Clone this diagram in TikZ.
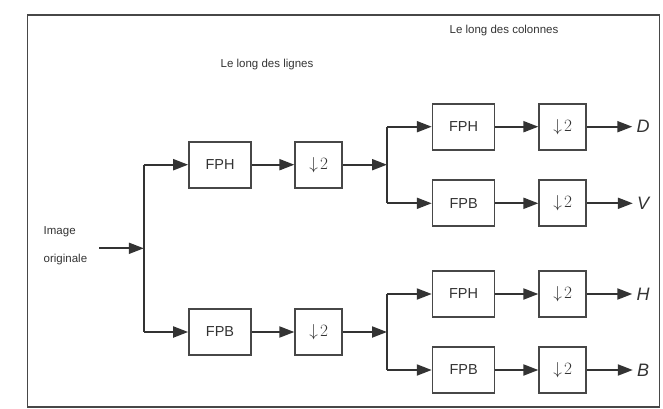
\documentclass[tikz,border=0pt]{standalone}
\usepackage{fontspec}
\setmainfont{Liberation Sans}
\usetikzlibrary{arrows.meta}
\definecolor{ln}{gray}{0.20}
\definecolor{bx}{gray}{0.28}
\definecolor{tx}{gray}{0.20}
\begin{document}
\begin{tikzpicture}[x=1pt,y=-1pt,
  conn/.style={draw=ln,line width=2pt},
  arr/.style={conn,-{Triangle[length=15pt,width=11pt]}},
  fbox/.style={draw=bx,line width=1.7pt,minimum width=62pt,minimum height=46pt,inner sep=0pt,
    font=\fontsize{14.5}{14.5}\selectfont,text=tx},
  dbox/.style={draw=bx,line width=1.7pt,minimum width=47pt,minimum height=46pt,inner sep=0pt,
    font=\fontsize{17}{17}\selectfont,text=tx},
  small/.style={font=\fontsize{11.5}{11.5}\selectfont,text=tx,inner sep=0pt},
  outl/.style={font=\fontsize{18}{18}\selectfont\itshape,text=tx,inner sep=4pt}]
\useasboundingbox (0,0) rectangle (663,409);
\draw[draw=bx,line width=1.7pt] (27.5,15) rectangle (659.5,407);
% titles
\node[small] (tcol) at (504,30.7) {Le long des colonnes};
\node[small] (tlig) at (267,65) {Le long des lignes};
\node[small,anchor=west] (img1) at (43.5,231.7) {Image};
\node[small,anchor=west] (img2) at (43.5,260) {originale};
% level 1
\node[fbox] (h1) at (220,164.7) {FPH};
\node[dbox] (d1) at (318.7,164.7) {$\downarrow\!2$};
\node[fbox] (l1) at (220,332) {FPB};
\node[dbox] (d2) at (318.7,332) {$\downarrow\!2$};
% level 2
\node[fbox] (hh) at (463.6,126.7) {FPH};
\node[dbox] (dhh) at (562.7,126.7) {$\downarrow\!2$};
\node[fbox] (hl) at (463.6,203.3) {FPB};
\node[dbox] (dhl) at (562.7,203.3) {$\downarrow\!2$};
\node[fbox] (lh) at (463.6,294) {FPH};
\node[dbox] (dlh) at (562.7,294) {$\downarrow\!2$};
\node[fbox] (ll) at (463.6,370) {FPB};
\node[dbox] (dll) at (562.7,370) {$\downarrow\!2$};
% outputs
\node[outl] (oD) at (643,126.7) {D};
\node[outl] (oV) at (643,203.3) {V};
\node[outl] (oH) at (643,294) {H};
\node[outl] (oB) at (643,370) {B};
% junctions
\coordinate (a0) at (99.4,248.3);
\coordinate (j0) at (143.8,248.3);
\coordinate (j1t) at (143.8,164.7);
\coordinate (j1b) at (143.8,332);
\coordinate (j2) at (387,164.7);
\coordinate (j2t) at (387,126.7);
\coordinate (j2b) at (387,203.3);
\coordinate (j3) at (387,332);
\coordinate (j3t) at (387,294);
\coordinate (j3b) at (387,370);
% connectors
\draw[arr] (a0) -- (j0);
\draw[conn] (j1t) -- (j1b);
\draw[arr] (j1t) -- (h1.west);
\draw[arr] (j1b) -- (l1.west);
\draw[arr] (h1) -- (d1);
\draw[arr] (l1) -- (d2);
\draw[arr] (d1) -- (j2);
\draw[arr] (d2) -- (j3);
\draw[conn] (j2t) -- (j2b);
\draw[conn] (j3t) -- (j3b);
\draw[arr] (j2t) -- (hh.west);
\draw[arr] (j2b) -- (hl.west);
\draw[arr] (j3t) -- (lh.west);
\draw[arr] (j3b) -- (ll.west);
\draw[arr] (hh) -- (dhh);
\draw[arr] (hl) -- (dhl);
\draw[arr] (lh) -- (dlh);
\draw[arr] (ll) -- (dll);
\draw[arr] (dhh) -- (oD);
\draw[arr] (dhl) -- (oV);
\draw[arr] (dlh) -- (oH);
\draw[arr] (dll) -- (oB);
\end{tikzpicture}
\end{document}
